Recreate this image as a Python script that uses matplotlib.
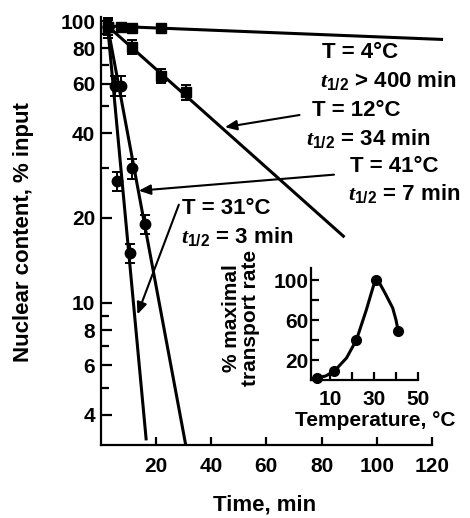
import matplotlib
matplotlib.use("Agg")
import matplotlib.pyplot as plt
from matplotlib.ticker import FixedLocator, NullFormatter, FixedFormatter

plt.rcParams['font.family'] = ['Liberation Sans', 'DejaVu Sans']
plt.rcParams['font.weight'] = 'bold'
plt.rcParams['mathtext.fontset'] = 'custom'
plt.rcParams['mathtext.it'] = 'Liberation Serif:italic:bold'
plt.rcParams['mathtext.rm'] = 'Liberation Sans:bold'

# ---------------- data ----------------
# T = 4 C
t4_time = [2.5, 7.5, 11.5, 22]
t4_val = [95, 95, 94.5, 94.5]
t4_line_x = [2.5, 124]
t4_line_y = [96, 86]

# T = 12 C
t12_time = [2.5, 11.5, 22, 31]
t12_val = [95, 81, 64, 56]
t12_line_x = [2.5, 88.3]
t12_line_y = [96, 17.1]

# T = 41 C
t41_time = [2.5, 7.5, 11.5, 16]
t41_val = [95, 59, 30, 19]
t41_line_x = [2.5, 30.8]
t41_line_y = [96, 3.13]

# T = 31 C
t31_time = [2.5, 5, 6, 10.5]
t31_val = [95, 59, 27, 15]
t31_line_x = [2.5, 16.5]
t31_line_y = [96, 3.25]

# inset: transport rate vs temperature
inset_temp = [4, 12, 22, 31, 41]
inset_rate = [2, 9, 40, 100, 49]
curve_temp = [4, 8, 12, 17.5, 22, 26.5, 30, 31, 32.5, 35, 38.5, 40, 41]
curve_rate = [2, 4, 9, 22, 40, 70, 96, 100, 97, 87, 72, 60, 49]

x_ticks = [20, 40, 60, 80, 100, 120]
y_major = [4, 6, 8, 10, 20, 40, 60, 80, 100]
y_minor = [5, 7, 9, 30, 50, 70, 90]


def fx(px):
    return px / 470.0


def fy(py):
    return 1 - py / 518.0


fig = plt.figure(figsize=(4.7, 5.18), dpi=100)
ax = fig.add_axes([fx(100.7), fy(445), fx(432) - fx(100.7), fy(17.4) - fy(445)])

ax.set_yscale('log')
ax.set_xlim(0, 120)
ax.set_ylim(3.13, 103)

lw = 2.2
ax.plot(t4_line_x, t4_line_y, color='black', lw=lw, clip_on=False, solid_capstyle='butt')
ax.plot(t12_line_x, t12_line_y, color='black', lw=lw, clip_on=False, solid_capstyle='butt')
ax.plot(t41_line_x, t41_line_y, color='black', lw=lw, clip_on=False, solid_capstyle='butt')
ax.plot(t31_line_x, t31_line_y, color='black', lw=lw, clip_on=False, solid_capstyle='butt')

ebkw = dict(color='black', ecolor='black', elinewidth=1.4, capsize=3.5, capthick=1.4,
            linestyle='none', clip_on=False)
ax.errorbar(t4_time, t4_val, yerr=[v * 0.03 for v in t4_val], marker='s', ms=7.5, **ebkw)
ax.errorbar(t12_time, t12_val, yerr=[v * 0.06 for v in t12_val], marker='s', ms=7.5, **ebkw)
ax.errorbar(t41_time, t41_val, yerr=[v * 0.08 for v in t41_val], marker='o', ms=7.5, **ebkw)
ax.errorbar(t31_time, t31_val, yerr=[v * 0.08 for v in t31_val], marker='o', ms=7.5, **ebkw)

for s in ['top', 'right']:
    ax.spines[s].set_visible(False)
for s in ['left', 'bottom']:
    ax.spines[s].set_linewidth(1.6)

ax.xaxis.set_major_locator(FixedLocator(x_ticks))
ax.yaxis.set_major_locator(FixedLocator(y_major))
ax.yaxis.set_major_formatter(FixedFormatter([str(v) for v in y_major]))
ax.yaxis.set_minor_locator(FixedLocator(y_minor))
ax.yaxis.set_minor_formatter(NullFormatter())
ax.tick_params(axis='x', direction='in', length=6, width=1.6, pad=8.5, labelsize=15)
ax.tick_params(axis='y', which='major', direction='in', length=8, width=1.6, pad=4, labelsize=15)
ax.tick_params(axis='y', which='minor', direction='in', length=6, width=1.6)

fig.text(fx(24), fy(232), 'Nuclear content, % input', rotation=90, ha='center', va='center',
         fontsize=16)
fig.text(fx(265), fy(505), 'Time, min', ha='center', va='center', fontsize=16)

# annotations
tsz = 16
half = r'$t_{\mathrm{1/2}}$'
fig.text(fx(322), fy(52), 'T = 4°C', fontsize=tsz, va='center')
fig.text(fx(320), fy(80), half + ' > 400 min', fontsize=tsz, va='center')
fig.text(fx(312), fy(111), 'T = 12°C', fontsize=tsz, va='center')
fig.text(fx(306), fy(138), half + ' = 34 min', fontsize=tsz, va='center')
fig.text(fx(350), fy(167), 'T = 41°C', fontsize=tsz, va='center')
fig.text(fx(348), fy(194), half + ' = 7 min', fontsize=tsz, va='center')
fig.text(fx(182), fy(209), 'T = 31°C', fontsize=tsz, va='center')
fig.text(fx(181), fy(236), half + ' = 3 min', fontsize=tsz, va='center')

akw = dict(arrowstyle='-|>,head_length=0.7,head_width=0.3', color='black', lw=1.5,
           shrinkA=0, shrinkB=0)
ax.annotate('', xy=(45, 42), xytext=(72, 46.4), arrowprops=akw)
ax.annotate('', xy=(13.8, 25), xytext=(84.5, 28.5), arrowprops=akw)
ax.annotate('', xy=(13.3, 9.1), xytext=(28.3, 22.3), arrowprops=akw)

# ---------------- inset ----------------
ins = fig.add_axes([fx(311.3), fy(380), fx(418) - fx(311.3), fy(268) - fy(380)])
ins.set_xlim(1.5, 50)
ins.set_ylim(0, 112)
ins.plot(curve_temp, curve_rate, color='black', lw=2.2, solid_joinstyle='round')
ins.plot(inset_temp, inset_rate, 'o', color='black', ms=7, clip_on=False)
for s in ['top', 'right']:
    ins.spines[s].set_visible(False)
for s in ['left', 'bottom']:
    ins.spines[s].set_linewidth(1.6)
ins.set_xticks([10, 20, 30, 40, 50])
ins.set_xticklabels(['10', '', '30', '', '50'])
ins.set_yticks([20, 40, 60, 80, 100])
ins.set_yticklabels(['20', '', '60', '', '100'])
ins.tick_params(direction='in', length=6, width=1.6, labelsize=15)
ins.tick_params(axis='x', pad=7)
ins.tick_params(axis='y', pad=2)
fig.text(fx(241), fy(318), '% maximal\ntransport rate', rotation=90, ha='center', va='center',
         fontsize=15, linespacing=1.0, multialignment='center')
fig.text(fx(375), fy(420), 'Temperature, °C', ha='center', va='center', fontsize=15)

fig.savefig('out.png', dpi=100)
